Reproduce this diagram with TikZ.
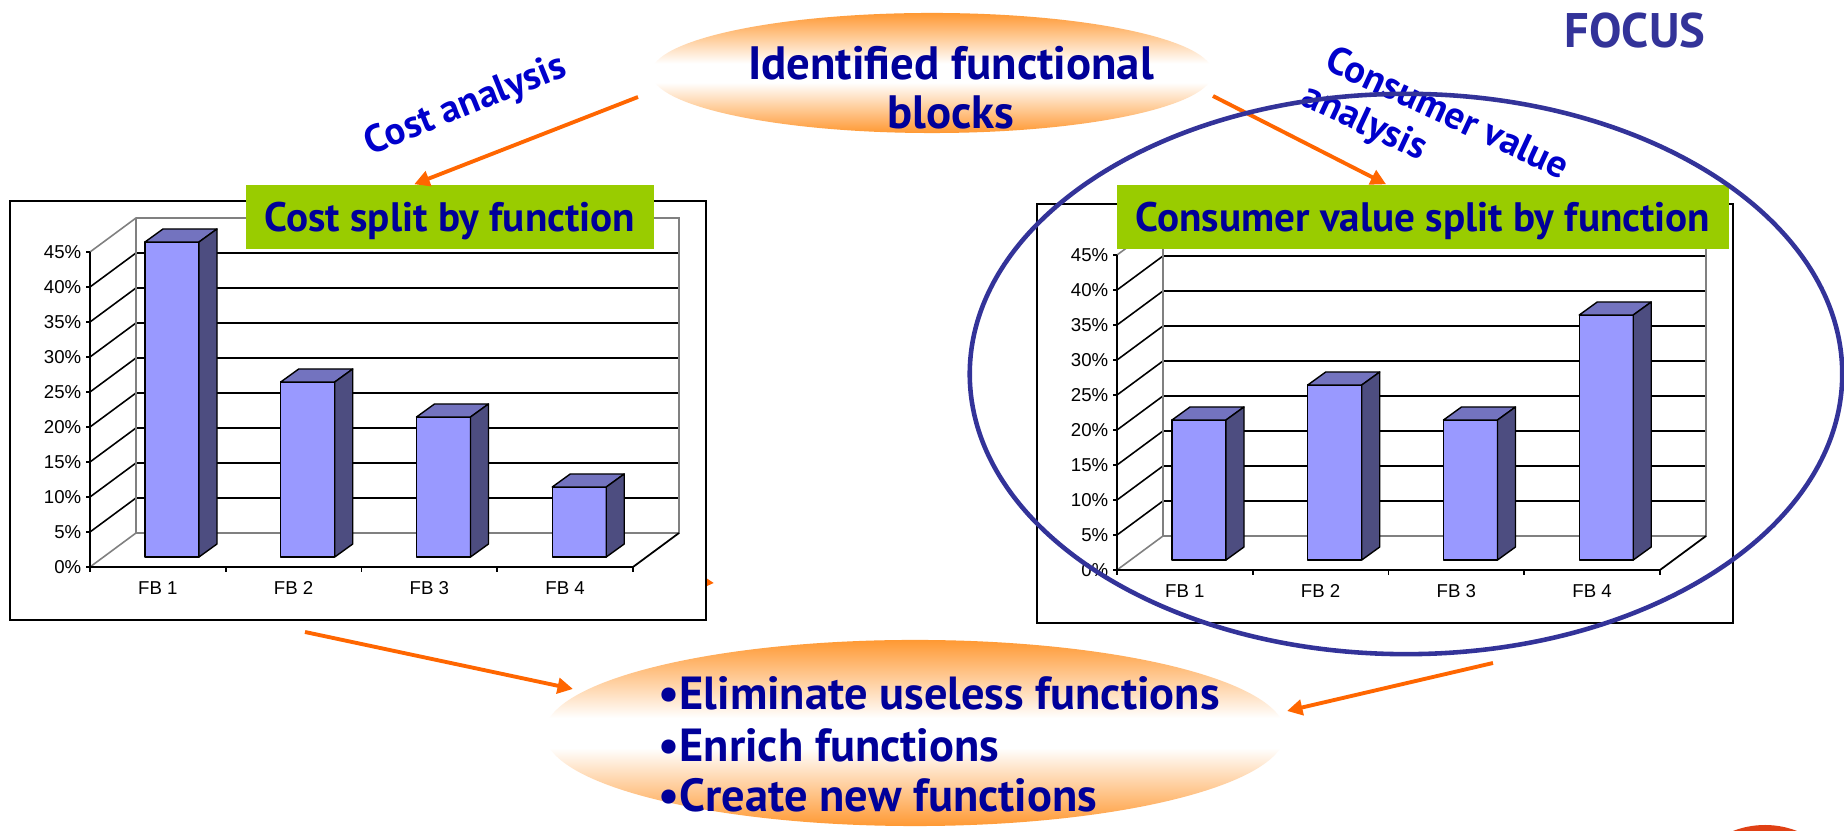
\documentclass[tikz,border=0pt]{standalone}
\usepackage{fontspec}
\setmainfont{PT Sans}
\newfontfamily\chartfont{Liberation Sans}
\usetikzlibrary{shapes.geometric,arrows.meta,calc}

\definecolor{navy}{RGB}{0,0,153}
\definecolor{linkblue}{RGB}{0,0,204}
\definecolor{focusblue}{RGB}{51,51,153}
\definecolor{arrowor}{RGB}{255,102,0}
\definecolor{ovalor}{RGB}{255,153,51}
\definecolor{lime}{RGB}{153,204,0}
\definecolor{barfrontc}{RGB}{153,153,255}
\definecolor{bartopc}{RGB}{115,115,191}
\definecolor{barsidec}{RGB}{77,77,128}
\definecolor{wallgrey}{RGB}{128,128,128}
\definecolor{blobred}{RGB}{224,64,20}

% orange rim, white centre band
\pgfdeclareverticalshading{ovalshade}{100bp}{color(0bp)=(ovalor); color(25bp)=(ovalor); color(46bp)=(white); color(54bp)=(white); color(75bp)=(ovalor); color(100bp)=(ovalor)}

\tikzset{
  ovalnode/.style={ellipse, shading=ovalshade, inner sep=0pt, draw=none},
  ovaltext/.style={font=\fontsize{13.3}{14}\selectfont\bfseries, text=navy, inner sep=0pt},
  listtext/.style={font=\fontsize{13.2}{14}\selectfont\bfseries, text=navy, inner sep=0pt},
  greenlbl/.style={fill=lime, minimum height=0.64cm, inner sep=0pt, text height=8.2pt, text depth=0pt,
    font=\fontsize{11.7}{13}\selectfont\bfseries, text=navy},
  flowlabel/.style={font=\fontsize{11}{12}\selectfont\bfseries, text=linkblue, inner sep=0pt},
  focustext/.style={font=\fontsize{13.8}{15}\selectfont\bfseries, text=focusblue, inner sep=0pt},
  flowarrow/.style={draw=arrowor, line width=1.1pt, -{Triangle[length=4.4pt,width=4.4pt]}},
  chartbox/.style={draw=black, fill=white, line width=0.6pt},
  gridline/.style={draw=black, line width=0.45pt},
  wallline/.style={draw=wallgrey, line width=0.45pt},
  axisline/.style={draw=black, line width=0.5pt},
  barface/.style={draw=black, line width=0.4pt, line join=round},
  ticklbl/.style={font=\chartfont\fontsize{5.3}{6}\selectfont, inner sep=0pt},
}

% 3-D column chart: #1 name prefix, #2/#3 offset, #4 the four values (percent)
\newcommand\barchart[4]{%
\begin{scope}[shift={(#2,#3)}]
  \draw[chartbox] (10,201) rectangle (706,620);
  % back wall and side wall grid
  \foreach \v in {5,10,...,40}
    \draw[gridline] (90,567-7*\v) -- (136,533-7*\v) -- (679,533-7*\v);
  \draw[wallline] (90,567) -- (136,533) -- (679,533) -- (679,218) -- (136,218) -- (90,252);
  \draw[wallline] (136,533) -- (136,218);
  % axes
  \draw[axisline] (90,252) -- (90,567) -- (633,567) -- (679,533);
  \foreach \v in {0,5,...,45} {
    \draw[axisline] (86,567-7*\v) -- (90,567-7*\v);
    \node[ticklbl, anchor=east] (#1y\v) at (82,567-7*\v) {\v\%};
  }
  \foreach \k in {0,...,4}
    \draw[axisline] (90+135.75*\k,567) -- (90+135.75*\k,572);
  \foreach \k in {1,...,4}
    \node[ticklbl] (#1fb\k) at (22.1+135.75*\k,588) {FB \k};
  % columns
  \foreach \v [count=\i from 0] in {#4} {
    \pgfmathsetmacro\bx{145+135.75*\i}
    \pgfmathsetmacro\by{557-7*\v}
    \draw[barface, fill=barfrontc] (\bx,557) rectangle (\bx+54,\by);
    \draw[barface, fill=bartopc] (\bx,\by) -- (\bx+18,\by-13) -- (\bx+72,\by-13) -- (\bx+54,\by) -- cycle;
    \draw[barface, fill=barsidec] (\bx+54,557) -- (\bx+54,\by) -- (\bx+72,\by-13) -- (\bx+72,544) -- cycle;
  }
\end{scope}}

\begin{document}
\begin{tikzpicture}[x=0.01cm, y=-0.01cm]
\useasboundingbox (0,0) rectangle (1844,831);
\clip (0,0) rectangle (1844,831);
\fill[white] (0,0) rectangle (1844,831);

% shaded ovals
\node[ovalnode, minimum width=5.61cm, minimum height=1.2cm] (ident) at (932,73) {};
\node[ovalnode, minimum width=7.4cm, minimum height=1.86cm] (actions) at (915,733) {};

% corner disc
\fill[blobred] (1765,913) circle[radius=88];

% connector running behind the cost chart
\coordinate (hid1) at (688,581);
\coordinate (hid2) at (714,583);
\draw[flowarrow] (hid1) -- (hid2);

% charts
\barchart{L}{0}{0}{45,25,20,10}
\barchart{R}{1027}{3}{20,25,20,35}

% chart titles
\node[greenlbl, minimum width=4.08cm] (costlbl) at (450,217) {Cost split by function};
\node[greenlbl, minimum width=6.12cm] (valuelbl) at (1423,217) {Consumer value split by function};

% connectors
\coordinate (c1) at (638,97);
\coordinate (c2) at (1213,96);
\coordinate (c3) at (305,632);
\coordinate (c4) at (1493,663);
\draw[flowarrow] (c1) -- ($(costlbl.north west)+(169,0)$);
\draw[flowarrow] (c2) -- ($(valuelbl.north west)+(270,0)$);
\draw[flowarrow] (c3) -- ($(actions.center)+(-342,-44)$);
\draw[flowarrow] (c4) -- ($(actions.center)+(372,-22)$);

% oval texts
\node[ovaltext, anchor=base] (t1) at (951,80) {Identified functional};
\node[ovaltext, anchor=base] (t2) at (951,129) {blocks};
\node[listtext, anchor=base west] (b1) at (658,710) {•Eliminate useless functions};
\node[listtext, anchor=base west] (b2) at (658,762) {•Enrich functions};
\node[listtext, anchor=base west] (b3) at (658,812) {•Create new functions};

% connector labels
\node[flowlabel, rotate=22] (costan) at (466,106) {Cost analysis};
\node[flowlabel, rotate=-25] (cva1) at (1448,112) {Consumer value};
\node[flowlabel, rotate=-25] (cva2) at (1364,124) {analysis};

\node[focustext, anchor=base] (focus) at (1635,48) {FOCUS};

% focus ring
\node[ellipse, draw=focusblue, line width=1.3pt, minimum width=8.72cm, minimum height=5.6cm, inner sep=0pt] (ring) at (1406,374) {};
\end{tikzpicture}
\end{document}
